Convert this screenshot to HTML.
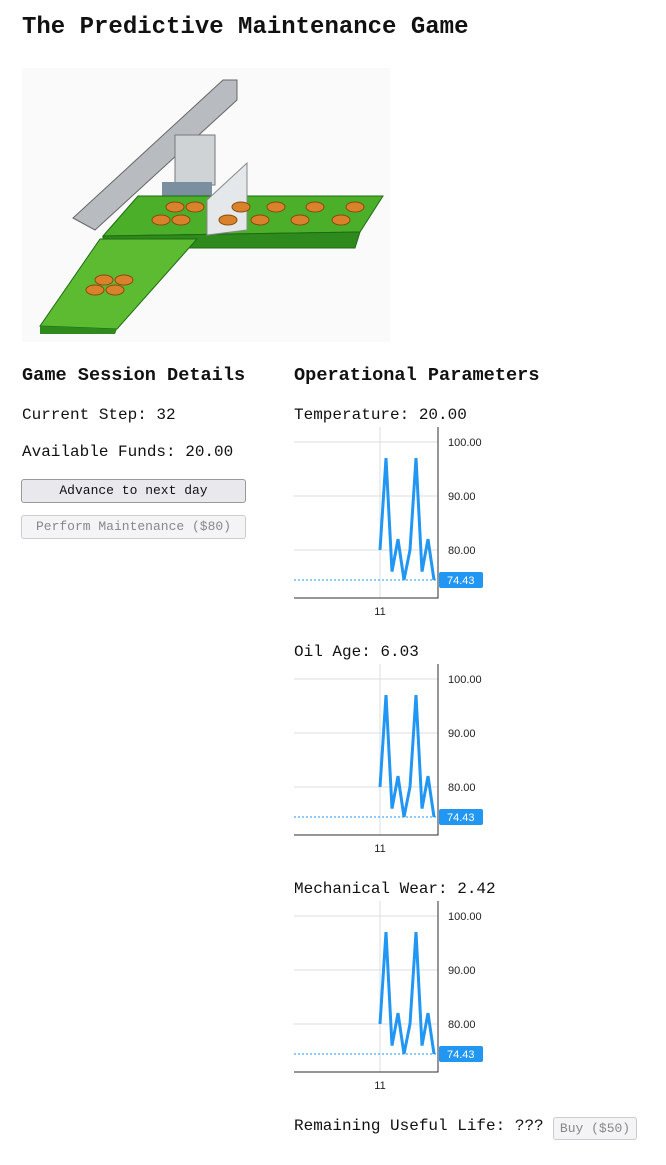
<!DOCTYPE html>
<html><head><meta charset="utf-8"><style>
body{margin:0;background:#fff;font-family:"Liberation Mono",monospace;color:#111;width:666px;height:1165px;position:relative;overflow:hidden}
.abs{position:absolute}
h1{position:absolute;left:22px;top:14px;margin:0;font-size:24px;font-weight:bold}
h2{position:absolute;margin:0;font-size:18.6px;font-weight:bold}
.t{position:absolute;font-size:16px;white-space:nowrap}
.btn{position:absolute;left:21px;width:223px;height:22px;border:1px solid #999;border-radius:3px;background:#e9e9ed;font-size:13px;text-align:center;line-height:22px;font-family:"Liberation Mono",monospace}
.dis{color:#888;background:#f4f4f6;border-color:#ccc}
</style></head><body>
<h1>The Predictive Maintenance Game</h1>
<svg class="abs" style="left:22px;top:68px" width="368" height="274" viewBox="22 68 368 274">
<rect x="22" y="68" width="368" height="274" fill="#fafafa"/>
<polygon points="73,218 95,230 237,100 237,80 223,80" fill="#b8bcc0" stroke="#666"/>
<rect x="175" y="135" width="40" height="50" fill="#cfd3d6" stroke="#777"/>
<rect x="162" y="182" width="50" height="14" fill="#7b8fa0"/>
<polygon points="138,196 383,196 360,232 103,236" fill="#4caf2a" stroke="#1e6b12"/>
<polygon points="103,236 360,232 355,248 103,248" fill="#2f8a1e" stroke="#1e6b12"/>
<polygon points="100,239 197,239 117,329 40,326" fill="#5dbb32" stroke="#1e6b12"/>
<polygon points="40,326 117,329 115,334 40,334" fill="#2f8a1e"/>
<polygon points="207,200 247,163 247,230 207,235" fill="#e4e8ea" stroke="#888"/>
<g fill="#d9822b" stroke="#8a4a10">
<ellipse cx="175" cy="207" rx="9" ry="5"/><ellipse cx="195" cy="207" rx="9" ry="5"/><ellipse cx="161" cy="220" rx="9" ry="5"/><ellipse cx="181" cy="220" rx="9" ry="5"/>
<ellipse cx="241" cy="207" rx="9" ry="5"/><ellipse cx="276" cy="207" rx="9" ry="5"/><ellipse cx="315" cy="207" rx="9" ry="5"/><ellipse cx="355" cy="207" rx="9" ry="5"/>
<ellipse cx="228" cy="220" rx="9" ry="5"/><ellipse cx="260" cy="220" rx="9" ry="5"/><ellipse cx="300" cy="220" rx="9" ry="5"/><ellipse cx="341" cy="220" rx="9" ry="5"/>
<ellipse cx="104" cy="280" rx="9" ry="5"/><ellipse cx="124" cy="280" rx="9" ry="5"/><ellipse cx="95" cy="290" rx="9" ry="5"/><ellipse cx="115" cy="290" rx="9" ry="5"/>
</g>
</svg>
<h2 style="left:22px;top:365px">Game Session Details</h2>
<div class="t" style="left:22px;top:406px">Current Step: 32</div>
<div class="t" style="left:22px;top:443px">Available Funds: 20.00</div>
<div class="btn" style="top:479px">Advance to next day</div>
<div class="btn dis" style="top:515px">Perform Maintenance ($80)</div>
<h2 style="left:294px;top:365px">Operational Parameters</h2>
<div class="t" style="left:294px;top:406px">Temperature: 20.00</div>
<div class="t" style="left:294px;top:643px">Oil Age: 6.03</div>
<div class="t" style="left:294px;top:880px">Mechanical Wear: 2.42</div>
<div class="t" style="left:294px;top:1117px">Remaining Useful Life: ???</div>
<div class="abs" style="left:553px;top:1117px;width:82px;height:21px;border:1px solid #ccc;border-radius:3px;background:#f4f4f6;color:#888;font-size:13px;text-align:center;line-height:21px">Buy ($50)</div>
<script>
const categories=[11,12,13,14,15,16,17,18,19,20];
const tempValues=[80,97,76,82,74.43,80,97,76,82,74.43];
const oilValues=[80,97,76,82,74.43,80,97,76,82,74.43];
const wearValues=[80,97,76,82,74.43,80,97,76,82,74.43];
const yTicks=[80,90,100];
const xTickLabels=["11"];
const NS="http://www.w3.org/2000/svg";
function mk(t,a,p){const e=document.createElementNS(NS,t);for(const k in a)e.setAttribute(k,a[k]);p.appendChild(e);return e;}
function chart(top,vals,name){
 const svg=document.createElementNS(NS,"svg");
 
 
 svg.setAttribute("width","200");svg.setAttribute("height","220");
 svg.style.cssText="position:absolute;left:290px;top:"+top+"px";
 document.body.appendChild(svg);
 const x0=4,x1=148,yb=188,yt=17;
 const y=v=>yb-(v-71.1)*5.4;
 const x=i=>90+(i)*6;
 yTicks.forEach(v=>{const l=mk("line",{x1:x0,x2:x1,y1:y(v),y2:y(v),stroke:"#d8dcdf"},svg);
  
  const t=mk("text",{x:158,y:y(v)+4,"font-size":"11","font-family":"Liberation Sans, sans-serif",fill:"#222"},svg);t.textContent=v.toFixed(2);
  });
 xTickLabels.forEach((s,k)=>{const xi=x(categories.indexOf(+s));
  const l=mk("line",{x1:xi,x2:xi,y1:yt,y2:yb,stroke:"#d8dcdf"},svg);
  
  const t=mk("text",{x:xi,y:yb+17,"font-size":"11","text-anchor":"middle","font-family":"Liberation Sans, sans-serif",fill:"#222"},svg);t.textContent=s;
  });
 const ax=mk("path",{d:`M${x1} ${yt}V${yb}H${x0}`,fill:"none",stroke:"#2a2e39"},svg);
 
 const last=vals[vals.length-1];
 const pl=mk("line",{x1:x0,x2:x1,y1:y(last),y2:y(last),stroke:"#2196f3","stroke-dasharray":"2,2"},svg);
 
 const ln=mk("polyline",{points:vals.map((v,i)=>x(i)+","+y(v)).join(" "),fill:"none",stroke:"#2196f3","stroke-width":"3","stroke-linejoin":"miter"},svg);
 
 const r=mk("rect",{x:x1+1,y:y(last)-8,width:44,height:16,rx:2,fill:"#2196f3"},svg);
 
 const t=mk("text",{x:x1+9,y:y(last)+4,"font-size":"11","font-family":"Liberation Sans, sans-serif",fill:"#fff"},svg);t.textContent=last.toFixed(2);
 
}
chart(410,tempValues,'temperature-chart');
chart(647,oilValues,'oil-age-chart');
chart(884,wearValues,'wear-chart');
</script>
</body></html>
